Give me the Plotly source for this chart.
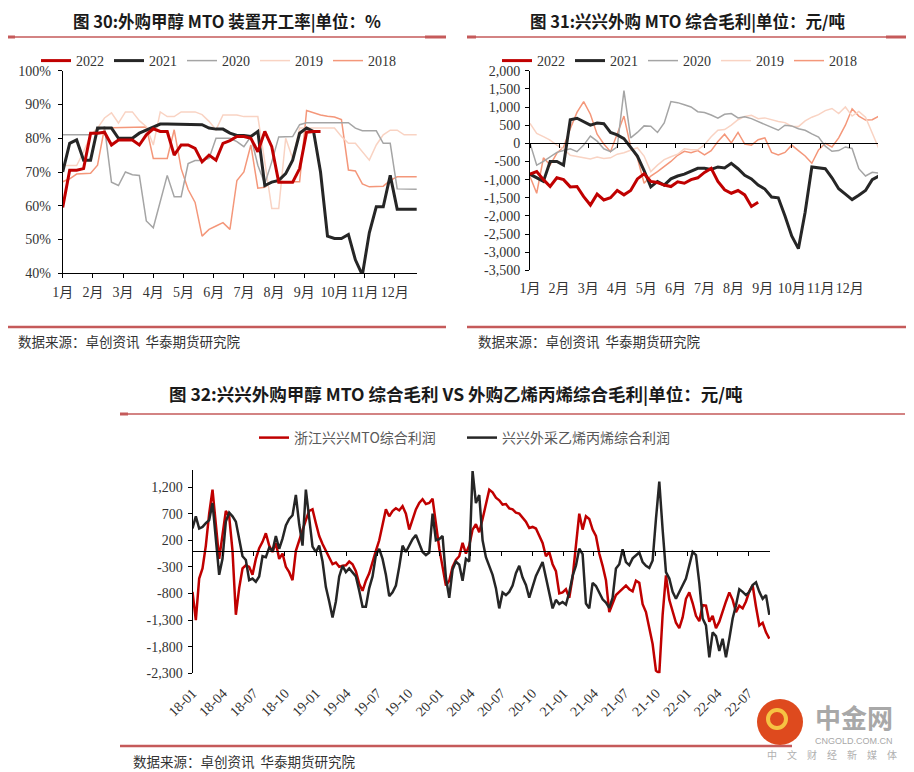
import pandas as pd
import plotly.graph_objects as go

# the page body adds an 8px margin, so the figure is drawn 8px smaller and
# reference pixel positions are shifted by that amount
PAD = 8
W, H = 914 - PAD, 772 - PAD

# ---------------- 图30: 外购甲醇MTO装置开工率 (%), weekly ----------------
months = ["1月", "2月", "3月", "4月", "5月", "6月", "7月", "8月", "9月", "10月", "11月", "12月"]
rate_ticks = [40, 50, 60, 70, 80, 90, 100]

rate_2022 = [59.5, 70.5, 70.5, 71, 81.5, 81.5, 81.8, 78, 79.5, 79.5,
             79.5, 78, 81, 82.8, 82, 82, 75, 78, 78, 77,
             73, 75, 73.5, 78.5, 79.3, 80.5, 80.5, 80, 76, 82,
             77.5, 67, 67, 67, 71, 81.8, 82, 82]
rate_2021 = [70, 78.5, 79.5, 73.5, 73.5, 83, 83, 83, 80, 80,
             80, 81.5, 82.4, 83.5, 84.2, 84.2, 84.2, 84.2, 84.2, 84.2,
             84, 83, 82.7, 82.7, 81.5, 80.8, 80.8, 80.5, 82, 66,
             67, 67.5, 69.5, 73.5, 81.5, 83, 82, 70, 51, 50.3,
             50.3, 51.5, 44, 39.5, 52, 59.7, 59.7, 69, 59, 59,
             59, 59]
rate_2020 = [81, 81, 81, 81, 81, 82.5, 83.3, 67, 66, 70,
             69.2, 69, 55.5, 53.5, 61.5, 69, 62.7, 62.7, 72.5, 73.4,
             73.4, 74, 80, 80, 80, 79, 77.5, 80.5, 72, 66.5,
             73, 80.4, 80.5, 80.5, 84, 84.6, 84.6, 84.6, 84.6, 84.6,
             84.6, 84.6, 83, 82.2, 82.2, 82.2, 78.5, 78.5, 65, 64.9,
             64.9, 64.9]
rate_2019 = [71.9, 71.9, 71.9, 76, 81, 83, 86, 87.5, 84.5, 87.8,
             87.8, 85.2, 83.4, 78, 87.8, 86.4, 86.4, 87.8, 87.8, 87.8,
             87, 85, 82.5, 86.9, 86.9, 86.9, 86.4, 86.4, 86.4, 73,
             59.2, 59.2, 80, 74, 83, 83, 83, 83, 83, 83,
             80.5, 78.5, 78.5, 76, 73.5, 78, 81, 82.4, 82.4, 81,
             81, 81]
rate_2018 = [67.1, 68, 69.4, 69.6, 69.6, 72, 83.1, 83.1, 83.1, 83.1,
             83.1, 83.1, 83.3, 74, 74, 74, 82.5, 71, 64.8, 61,
             51, 53, 54, 55, 53, 67.5, 70, 78, 65.2, 65.5,
             67.1, 67.1, 67.1, 67.1, 67.1, 88.2, 87.5, 86.9, 86.5, 86.3,
             85.5, 70.6, 70.3, 66.5, 65.6, 65.6, 65.8, 67.5, 68.6, 68.6,
             68.6, 68.6]

# ---------------- 图31: 兴兴外购MTO综合毛利 (元/吨), weekly ----------------
margin_ticks = [-3500, -3000, -2500, -2000, -1500, -1000, -500, 0, 500, 1000, 1500, 2000]

margin_2022 = [-850, -780, -1000, -1190, -950, -1000, -1200, -1190, -1470, -1700,
               -1400, -1560, -1500, -1300, -1420, -1300, -980, -840, -1050, -1080,
               -1150, -1190, -1060, -1100, -1000, -950, -800, -690, -1050, -1280,
               -1375, -1300, -1420, -1740, -1620]
margin_2021 = [-850, -950, -1050, -500, -500, -600, 650, 690, 600, 500,
               560, 540, 300, 230, 130, -100, -350, -750, -1200, -1050,
               -1150, -980, -900, -850, -760, -690, -690, -720, -650, -680,
               -550, -700, -880, -980, -1150, -1260, -1480, -1500, -2000, -2550,
               -2900, -1900, -650, -680, -700, -950, -1250, -1400, -1550, -1430,
               -1300, -1000, -900]
margin_2020 = [0, -600, -500, -380, -250, -200, -150, -230, -50, 200,
               60, -150, -230, -100, 1450, 150, 300, 480, 470, 300,
               560, 1150, 1120, 1060, 1000, 870, 850, 780, 690, 800,
               820, 700, 730, 680, 600, 540, 440, 360, 500, 480,
               400, 360, 260, 170, -80, -220, -200, -100, -140, -700,
               -900, -800, -820]
margin_2019 = [550, 275, 185, 90, -50, -150, -330, -370, -400, -430,
               -380, -420, -400, -300, -260, -200, -120, -350, -780, -600,
               -450, -370, -300, -150, -180, -180, -40, 180, 360, 380,
               500, 650, 740, 770, 680, 700, 640, 600, 570, 470,
               460, 620, 720, 790, 900, 960, 820, 1000, 750, 880,
               720, 300, -150]
margin_2018 = [-917, -1375, -400, -600, -275, -100, 400, 850, 1150, 800,
               250, -20, -230, 250, 750, -100, -400, -1100, -900, -780,
               -640, -500, -330, -220, -260, -200, -320, -200, 50, 250,
               10, 300, -20, -50, 100, 150, -250, -320, -250, -50,
               -200, -350, -550, -180, 0, -100, 150, 500, 950, 750,
               640, 650, 750]

# ---------------- 图32: MTO综合毛利 vs 外购乙烯丙烯综合毛利 ----------------
quarter_labels = ["18-01", "18-04", "18-07", "18-10", "19-01", "19-04", "19-07", "19-10",
                  "20-01", "20-04", "20-07", "20-10", "21-01", "21-04", "21-07", "21-10",
                  "22-01", "22-04", "22-07"]
profit_ticks = [-2300, -1800, -1300, -800, -300, 200, 700, 1200]

mto_profit = [
    -770, -1300, -520, -330, 100, 700, 1150, 500, -150, 300,
    750, 650, 0, -1200, -700, -330, -270, -300, -450, -150,
    50, 170, 330, 100, -20, 150, -150, -50, -300, -400,
    -550, 0, 200, 400, 580, 750, 780, 520, 280, 130,
    0, -120, -250, -220, -300, -280, -270, -200, -250, -380,
    -620, -750, -560, -420, -230, 0, 200, 500, 780,
    650, 750, 800, 760, 840, 700, 400, 600, 780, 900,
    970, 880, 900, 980, 500, 50, -300, -650, -560, -300,
    -170, -100, 150, -50, 100, 400, 500, 350, 600, 900,
    1150, 1100, 1000, 950, 870, 880, 800, 780, 720, 700,
    620, 550, 430, 450, 420, 300, 150, -100, -20, -250,
    -380, -800, -780, -720, -880, -500, 100, 700, 400,
    650, 600, 400, 280, -50, -280, -550, -1150, -1000, -830,
    -770, -700, -650, -720, -760, -560, -600, -1000, -1150, -1450,
    -1750, -2250, -2300, -1200, -460, -920, -1160, -1350, -1450, -1250,
    -900, -780, -980, -1220, -1320, -1020, -1030, -1330, -1220, -1450,
    -1330, -1130, -950, -780, -920, -1150, -1030, -1080, -950, -760,
    -650, -1050, -1400, -1350, -1530, -1650]
olefin_profit = [
    420, 650, 420, 450, 520, 580, 900, 150, -450, -150,
    550, 720, 650, 550, 200, -100, -170, -550, -520, -580,
    -480, -100, -120, 60, 0, 280, 40, 230, 480, 600,
    670, 1050, 500, 100, 1150, 650, 80, -20, 100, -200,
    -680, -950, -1250, -950, -480, -280, -400, -330, -400, -480,
    -750, -1050, -1050, -700, -480, -80, 40, -150, -450,
    -850, -780, -650, -300, 100, -20, 100, 220, 300, 120,
    -20, -80, -30, 700, 200, 220, 280, -500, -880, -350,
    -200, -260, -560, -150, -200, 1500, 900, 1050, 200, -120,
    -270, -450, -700, -1080, -780, -830, -770, -650, -420, -280,
    -500, -640, -880, -660, -470, -340, -210, -500, -760, -1080,
    -920, -1000, -960, -1010, -780, -470, -280, 40, -60,
    -990, -1080, -600, -660, -780, -910, -970, -1070, -880, -330,
    -250, 30, -210, -270, -140, -80, -30, -210, -280, -320,
    -180, 600, 1300, 400, -400, -520, -770, -900, -770, -640,
    -520, -270, -20, -80, -600, -1270, -1400, -2000, -1530, -1600,
    -1880, -1650, -2000, -1650, -1270, -1020, -720, -770, -830, -770,
    -640, -590, -770, -900, -830, -1200]

profit_dates = pd.date_range("2018-01-01", "2022-09-01", periods=len(mto_profit))
quarter_dates = [pd.Timestamp("20" + q + "-01") for q in quarter_labels]


def fx(px):
    return (px - PAD) / W


def fy(py):
    return 1 - (py - PAD) / H


SERIF = "Liberation Serif, Noto Sans CJK SC"
CJK = "Noto Sans CJK SC"
RED = "#C00000"
DARK = "#262626"
RULE = "#C55A5A"

year_style = {
    "2018": ("#F4977A", 1.5),
    "2019": ("#F9D3C3", 1.5),
    "2020": ("#A5A5A5", 1.5),
    "2021": (DARK, 3),
    "2022": (RED, 3),
}
rates = {"2018": rate_2018, "2019": rate_2019, "2020": rate_2020, "2021": rate_2021, "2022": rate_2022}
margins = {"2018": margin_2018, "2019": margin_2019, "2020": margin_2020, "2021": margin_2021,
           "2022": margin_2022}
month_pos = [i * 52 / 12 for i in range(12)]

fig = go.Figure()

for yr in ["2018", "2019", "2020", "2021", "2022"]:
    color, width = year_style[yr]
    fig.add_trace(go.Scatter(x=list(range(len(rates[yr]))), y=rates[yr], mode="lines", name=yr,
                             line=dict(color=color, width=width), xaxis="x", yaxis="y",
                             legend="legend"))
    fig.add_trace(go.Scatter(x=list(range(len(margins[yr]))), y=margins[yr], mode="lines", name=yr,
                             line=dict(color=color, width=width), xaxis="x2", yaxis="y2",
                             legend="legend2"))

fig.add_trace(go.Scatter(x=profit_dates, y=mto_profit, mode="lines", name="浙江兴兴MTO综合利润",
                         line=dict(color=RED, width=2.5), xaxis="x3", yaxis="y3",
                         legend="legend3", legendwidth=163))
fig.add_trace(go.Scatter(x=profit_dates, y=olefin_profit, mode="lines", name="兴兴外采乙烯丙烯综合利润",
                         line=dict(color=DARK, width=2.5), xaxis="x3", yaxis="y3",
                         legend="legend3"))

# helper traces so the zero-line axes get drawn
fig.add_trace(go.Scatter(x=[0], y=[None], xaxis="x4", yaxis="y2", showlegend=False, hoverinfo="skip"))
fig.add_trace(go.Scatter(x=[profit_dates[0]], y=[None], xaxis="x5", yaxis="y3", showlegend=False,
                         hoverinfo="skip"))

tick_font = dict(family=SERIF, size=14, color="#333333")
common = dict(showgrid=False, zeroline=False, linecolor="black", linewidth=1, tickcolor="black",
              tickwidth=1, ticklen=4, tickfont=tick_font, fixedrange=True, automargin=False)

dom_y2 = [fy(270.4), fy(70.7)]
rng_y2 = [-3500, 2000]
dom_y3 = [fy(673.3), fy(470)]
rng_y3 = [-2300, 1520]
zero2 = dom_y2[0] + (0 - rng_y2[0]) / (rng_y2[1] - rng_y2[0]) * (dom_y2[1] - dom_y2[0])
zero3 = dom_y3[0] + (0 - rng_y3[0]) / (rng_y3[1] - rng_y3[0]) * (dom_y3[1] - dom_y3[0])
date_range = ["2018-01-01", "2022-09-03"]

fig.update_layout(
    width=W, height=H, margin=dict(l=0, r=0, t=0, b=0, autoexpand=False),
    paper_bgcolor="white", plot_bgcolor="white",
    xaxis=dict(domain=[fx(62.7), fx(416.7)], range=[0, 50.8], anchor="y", tickvals=month_pos,
               ticktext=months, ticks="outside", showline=True, tickangle=0,
               ticklabelstandoff=2, **common),
    yaxis=dict(domain=[fy(273.3), fy(70.7)], range=[40, 100], anchor="x", tickvals=rate_ticks,
               ticktext=[f"{v}%" for v in rate_ticks], ticks="outside", showline=True,
               ticklabelstandoff=4, **common),
    xaxis2=dict(domain=[fx(530), fx(878)], range=[0, 51.86], anchor="y2", tickvals=month_pos,
                ticktext=months, ticks="", showline=False, tickangle=0, ticklabelstandoff=8,
                **common),
    yaxis2=dict(domain=dom_y2, range=rng_y2, anchor="x2", tickvals=margin_ticks,
                ticktext=[f"{v:,}" for v in margin_ticks], ticks="outside", showline=True,
                ticklabelstandoff=2, **common),
    xaxis4=dict(overlaying="x2", anchor="free", position=zero2, range=[0, 51.86],
                tickvals=month_pos, showticklabels=False, ticks="outside", showline=True, **common),
    xaxis3=dict(domain=[fx(192.5), fx(770)], type="date", range=date_range, anchor="y3",
                tickvals=quarter_dates, ticktext=quarter_labels, tickangle=-45, ticks="",
                showline=False, ticklabelstandoff=8, **common),
    yaxis3=dict(domain=dom_y3, range=rng_y3, anchor="x3", tickvals=profit_ticks,
                ticktext=[f"{v:,}" for v in profit_ticks], ticks="outside", showline=True,
                ticklabelstandoff=2, **common),
    xaxis5=dict(overlaying="x3", anchor="free", position=zero3, type="date", range=date_range,
                tickvals=quarter_dates, showticklabels=False, ticks="outside", showline=True, **common),
    legend=dict(orientation="h", x=fx(36), y=fy(61), xanchor="left", yanchor="middle",
                traceorder="reversed", entrywidth=28, entrywidthmode="pixels",
                font=dict(family=SERIF, size=14, color="#333333"), bgcolor="rgba(0,0,0,0)"),
    legend2=dict(orientation="h", x=fx(497), y=fy(61), xanchor="left", yanchor="middle",
                 traceorder="reversed", entrywidth=28, entrywidthmode="pixels",
                 font=dict(family=SERIF, size=14, color="#333333"), bgcolor="rgba(0,0,0,0)"),
    legend3=dict(orientation="h", x=fx(254), y=fy(438), xanchor="left", yanchor="middle",
                 font=dict(family=CJK, size=14, color="#595959"), bgcolor="rgba(0,0,0,0)"),
    showlegend=True,
)

title_font = dict(family=CJK, size=16.5, color="#1a1a1a", weight="bold")
src_font = dict(family=CJK, size=13.5, color="#333333")
src_text = "数据来源：卓创资讯  华泰期货研究院"
annotations = [
    dict(text="图 30:外购甲醇 MTO 装置开工率|单位：%", x=fx(227), y=1, yanchor="top",
         font=title_font),
    dict(text="图 31:兴兴外购 MTO 综合毛利|单位：元/吨", x=fx(687), y=1, yanchor="top",
         font=title_font),
    dict(text="图 32:兴兴外购甲醇 MTO 综合毛利 VS 外购乙烯丙烯综合毛利|单位：元/吨",
         x=fx(456), y=fy(393), font=dict(title_font, size=17.5)),
    dict(text=src_text, x=fx(17), y=fy(341), xanchor="left", font=src_font),
    dict(text=src_text, x=fx(477), y=fy(341), xanchor="left", font=src_font),
    dict(text=src_text, x=fx(132), y=fy(761), xanchor="left", font=src_font),
    dict(text="中金网", x=fx(854), y=fy(716), font=dict(family=CJK, size=26, color="#A8A8A8",
                                                       weight="bold")),
    dict(text="CNGOLD.COM.CN", x=fx(854), y=fy(741), font=dict(family="Liberation Sans", size=9,
                                                                color="#A8A8A8")),
    dict(text="中　文　财　经　新　媒　体", x=fx(898), y=fy(754), xanchor="right",
         font=dict(family=CJK, size=10, color="#B0B0B0")),
]
for a in annotations:
    a.setdefault("xanchor", "center")
    a.setdefault("yanchor", "middle")
    fig.add_annotation(xref="paper", yref="paper", showarrow=False, borderpad=0, **a)


def rule(x0, x1, y, width):
    fig.add_shape(type="line", xref="paper", yref="paper", x0=fx(x0), x1=fx(x1), y0=fy(y), y1=fy(y),
                  line=dict(color=RULE, width=width))


rule(8, 446, 37, 1.5)
rule(8, 15, 37, 3)
rule(425, 446, 37, 3)
rule(467, 907, 37, 1.5)
rule(467, 476, 37, 3)
rule(886, 907, 37, 3)
rule(8, 446, 327, 2.5)
rule(467, 907, 327, 2.5)
rule(120, 905, 414, 1.5)
rule(120, 128, 414, 3)
rule(120, 792, 746, 2.5)

# 中金网 logo disc
fig.add_shape(type="circle", xref="paper", yref="paper", x0=fx(757), x1=fx(803), y0=fy(745),
              y1=fy(699), fillcolor="#DE4A1E", line=dict(width=0))
fig.add_shape(type="circle", xref="paper", yref="paper", x0=fx(768), x1=fx(786), y0=fy(728),
              y1=fy(710), fillcolor="rgba(0,0,0,0)", line=dict(color="#F6C343", width=4))

fig.write_html("out.html")
